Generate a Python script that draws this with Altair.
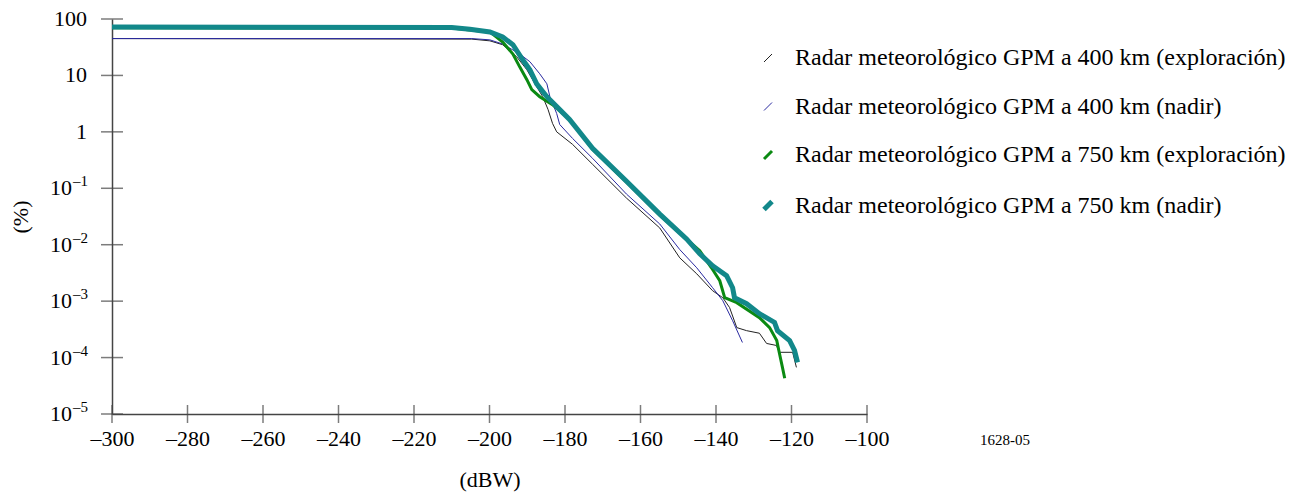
import altair as alt
import pandas as pd

SERIES = [
    "Radar meteorológico GPM a 400 km (exploración)",
    "Radar meteorológico GPM a 400 km (nadir)",
    "Radar meteorológico GPM a 750 km (exploración)",
    "Radar meteorológico GPM a 750 km (nadir)",
]
COLORS = ["#222222", "#2a2aa0", "#0b8a12", "#12888a"]
WIDTHS = [1, 1, 3, 5]

X_400_EXP = [-300, -204.7, -199.9, -196.5, -192.8, -190.1, -187.5, -185.9, -184.5, -183.3,
             -182.2, -178.0, -172.7, -163.7, -154.9, -149.6, -145.1, -140.9, -138.2, -136.4,
             -134.5, -131.9, -128.5, -126.6, -124.0, -123.2, -119.7, -118.7]
Y_400_EXP = [45, 44, 41, 35, 21.4, 12.6, 6.3, 4.2, 2.5, 1.41,
             1.0, 0.60, 0.266, 0.0669, 0.0198, 5.85e-3, 3.05e-3, 1.53e-3, 1.15e-3, 7.7e-4,
             3.4e-4, 3.0e-4, 2.7e-4, 1.78e-4, 1.64e-4, 1.24e-4, 1.24e-4, 6.7e-5]

X_400_NAD = [-300, -204.7, -199.9, -196.5, -192.0, -189.3, -186.7, -184.8, -184.0, -182.2,
             -181.4, -178.0, -172.7, -163.7, -154.9, -149.6, -145.1, -140.9, -138.2, -135.6,
             -133.0]
Y_400_NAD = [45, 45, 42.7, 36, 24, 17.5, 10.7, 7.1, 4.2, 2.11,
             1.35, 0.765, 0.34, 0.0787, 0.0233, 8.2e-3, 3.9e-3, 1.73e-3, 1.02e-3, 4.5e-4,
             1.85e-4]

X_750_EXP = [-300, -210.0, -205.2, -199.9, -196.5, -193.8, -192.0, -190.1, -188.8, -186.7,
             -183.3, -178.8, -172.7, -163.7, -154.9, -149.6, -144.3, -141.2, -139.0, -137.7,
             -134.5, -128.5, -125.8, -123.9, -123.2, -122.4, -121.8]
Y_750_EXP = [70, 69, 64, 59, 39, 24, 14.2, 8.4, 5.6, 4.2,
             3.04, 1.66, 0.49, 0.128, 0.0335, 0.0161, 7.8e-3, 3.9e-3, 2.3e-3, 1.15e-3,
             9.4e-4, 5.1e-4, 3.4e-4, 2.0e-4, 1.19e-4, 6.7e-5, 4.3e-5]

X_750_NAD = [-300, -210.0, -205.2, -199.9, -196.5, -193.8, -191.2, -189.3, -187.5, -184.8,
             -182.2, -178.8, -172.7, -163.7, -154.9, -147.8, -144.3, -140.9, -137.2, -135.6,
             -135.1, -131.9, -128.5, -124.5, -123.7, -120.5, -119.2, -118.4]
Y_750_NAD = [72, 71, 66, 59, 48, 35, 18.9, 12.6, 7.1, 4.2,
             2.8, 1.66, 0.51, 0.133, 0.0349, 0.01265, 6.9e-3, 4.23e-3, 2.82e-3, 1.73e-3,
             1.15e-3, 9.0e-4, 6.0e-4, 4.2e-4, 3.0e-4, 2.0e-4, 1.34e-4, 8.2e-5]

X_TICKS = [-300, -280, -260, -240, -220, -200, -180, -160, -140, -120, -100]
Y_TICKS = [100, 10, 1, 0.1, 0.01, 0.001, 0.0001, 0.00001]
Y_LABEL_PLAIN = ["100", "10", "1"]
Y_LABEL_BASE = ["10", "10", "10", "10", "10"]
Y_LABEL_EXP = ["–1", "–2", "–3", "–4", "–5"]
NOTE = "1628-05"

rows = []
for name, xs, ys in zip(SERIES, [X_400_EXP, X_400_NAD, X_750_EXP, X_750_NAD],
                        [Y_400_EXP, Y_400_NAD, Y_750_EXP, Y_750_NAD]):
    for i, (x, y) in enumerate(zip(xs, ys)):
        rows.append({"series": name, "dbw": x, "pct": y, "i": i})
df = pd.DataFrame(rows)

FONT = "Liberation Serif"
x_scale = alt.Scale(domain=[-300, -100], nice=False, zero=False)
y_scale = alt.Scale(type="log", domain=[1e-5, 100], nice=False)

legend = alt.Legend(
    title=None, orient="none", legendX=644, legendY=27,
    symbolType="M-1,1L1,-1", symbolSize=64,
    labelFont=FONT, labelFontSize=24, labelColor="black",
    labelOffset=15, rowPadding=24.5, padding=0, labelLimit=0,
)

lines = alt.Chart(df).mark_line().encode(
    x=alt.X("dbw:Q", scale=x_scale, axis=alt.Axis(
        values=X_TICKS, ticks=False, tickSize=0, grid=False,
        labelExpr="'–' + abs(datum.value)", labelPadding=14,
        labelFlush=False, labelOverlap=False, labelBound=False,
        title="(dBW)", titlePadding=20)),
    y=alt.Y("pct:Q", scale=y_scale, axis=alt.Axis(
        values=Y_TICKS, ticks=False, tickSize=0, grid=False, labels=False,
        title="(%)", titlePadding=80)),
    color=alt.Color("series:N", scale=alt.Scale(domain=SERIES, range=COLORS), legend=legend),
    strokeWidth=alt.StrokeWidth("series:N", scale=alt.Scale(type="ordinal", domain=SERIES, range=WIDTHS), legend=legend),
    order="i:Q",
)

ytick_df = pd.DataFrame({"dbw": [X_TICKS[0]] * len(Y_TICKS), "pct": Y_TICKS})
xtick_df = pd.DataFrame({"dbw": X_TICKS, "pct": [Y_TICKS[-1]] * len(X_TICKS)})

yticks = alt.Chart(ytick_df).mark_tick(orient="horizontal", size=22, thickness=1.5, color="#444").encode(
    x=alt.X("dbw:Q", scale=x_scale), y=alt.Y("pct:Q", scale=y_scale))
xticks = alt.Chart(xtick_df).mark_tick(orient="vertical", size=18, thickness=1.5, color="#444").encode(
    x=alt.X("dbw:Q", scale=x_scale), y=alt.Y("pct:Q", scale=y_scale))

plain_df = pd.DataFrame({"dbw": [X_TICKS[0]] * 3, "pct": Y_TICKS[:3], "t": Y_LABEL_PLAIN})
exp_df = pd.DataFrame({"dbw": [X_TICKS[0]] * 5, "pct": Y_TICKS[3:], "b": Y_LABEL_BASE, "e": Y_LABEL_EXP})

plain_lbl = alt.Chart(plain_df).mark_text(
    font=FONT, fontSize=22, color="black", align="right", baseline="alphabetic", dx=-25, dy=7
).encode(x=alt.X("dbw:Q", scale=x_scale), y=alt.Y("pct:Q", scale=y_scale), text="t:N")
base_lbl = alt.Chart(exp_df).mark_text(
    font=FONT, fontSize=22, color="black", align="right", baseline="alphabetic", dx=-40, dy=7
).encode(x=alt.X("dbw:Q", scale=x_scale), y=alt.Y("pct:Q", scale=y_scale), text="b:N")
exp_lbl = alt.Chart(exp_df).mark_text(
    font=FONT, fontSize=15, color="black", align="right", baseline="alphabetic", dx=-24, dy=-2
).encode(x=alt.X("dbw:Q", scale=x_scale), y=alt.Y("pct:Q", scale=y_scale), text="e:N")

note = alt.Chart(pd.DataFrame({"t": [NOTE]})).mark_text(
    font=FONT, fontSize=15, color="black", align="center", baseline="middle"
).encode(x=alt.value(893), y=alt.value(421), text="t:N")

chart = alt.layer(xticks, yticks, lines, plain_lbl, base_lbl, exp_lbl, note).properties(
    width=755, height=395,
    autosize=alt.AutoSizeParams(type="none"),
    padding={"left": 104, "top": 11, "right": 426, "bottom": 82},
).configure_axis(
    labelFont=FONT, labelFontSize=22, labelColor="black",
    titleFont=FONT, titleFontSize=22, titleColor="black", titleFontWeight="normal",
    domainColor="#444", domainWidth=1.5,
).configure_view(stroke=None)

chart.save("out.html", embed_options={"renderer": "svg", "actions": False})
